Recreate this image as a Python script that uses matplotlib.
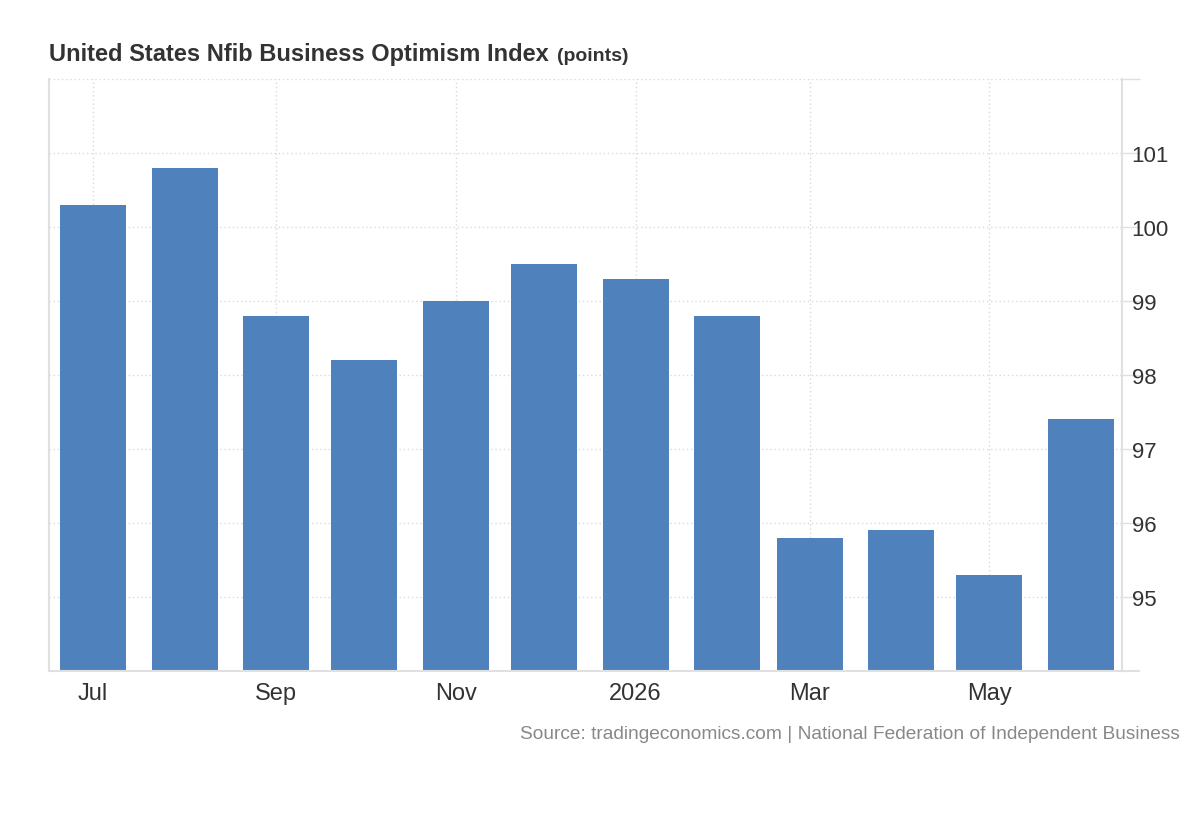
#!/usr/bin/env python3
"""United States NFIB business optimism index, monthly bars."""

from __future__ import annotations

from datetime import date

import matplotlib

matplotlib.use("Agg")
import matplotlib.pyplot as plt
from matplotlib.lines import Line2D

MONTHS = [
    date(2025, 7, 1), date(2025, 8, 1), date(2025, 9, 1), date(2025, 10, 1),
    date(2025, 11, 1), date(2025, 12, 1), date(2026, 1, 1), date(2026, 2, 1),
    date(2026, 3, 1), date(2026, 4, 1), date(2026, 5, 1), date(2026, 6, 1),
]
INDEX_POINTS = [100.3, 100.8, 98.8, 98.2, 99.0, 99.5, 99.3, 98.8, 95.8, 95.9, 95.3, 97.4]

TICK_DATES = [
    date(2025, 7, 1), date(2025, 9, 1), date(2025, 11, 1),
    date(2026, 1, 1), date(2026, 3, 1), date(2026, 5, 1),
]
TICK_LABELS = ["Jul", "Sep", "Nov", "2026", "Mar", "May"]
Y_TICKS = [95, 96, 97, 98, 99, 100, 101]

BAR_COLOR = "#4f81bd"
TEXT_COLOR = "#333333"
GRID_COLOR = "#d9d9d9"
AXIS_COLOR = "#e0e0e0"


def main() -> int:
    plt.rcParams["font.family"] = ["Liberation Sans", "DejaVu Sans"]
    fig = plt.figure(figsize=(12, 8.2), dpi=100)
    ax = fig.add_axes((0.0408, 0.1805, 0.8942, 0.7220))

    ax.bar(MONTHS, INDEX_POINTS, width=22.4, color=BAR_COLOR, zorder=2)

    ax.set_xlim(date(2025, 6, 16), date(2026, 6, 15))
    ax.set_ylim(94, 102)

    # grid: dotted, with the top border drawn as a grid line too
    for y in Y_TICKS + [102]:
        ax.axhline(y, color=GRID_COLOR, linestyle=(0, (1, 2)), linewidth=1, zorder=1)
    for d in TICK_DATES:
        ax.axvline(d, color=GRID_COLOR, linestyle=(0, (1, 2)), linewidth=1, zorder=1)

    ax.set_xticks(TICK_DATES, TICK_LABELS)
    ax.tick_params(axis="x", length=0, pad=8, labelsize=17, labelcolor=TEXT_COLOR)

    ax.yaxis.tick_right()
    ax.set_yticks(Y_TICKS + [102], [str(v) for v in Y_TICKS] + [""])
    ax.tick_params(axis="y", length=13, width=1, color=AXIS_COLOR, pad=-6,
                   labelsize=16, labelcolor=TEXT_COLOR)

    ax.spines["top"].set_visible(False)
    for side in ("left", "right", "bottom"):
        ax.spines[side].set_color(AXIS_COLOR)
        ax.spines[side].set_linewidth(1.5)
    # bottom axis line runs a little past the right spine
    ax.add_line(Line2D([1.0, 1.016], [0, 0], transform=ax.transAxes,
                       color=AXIS_COLOR, linewidth=1.5, clip_on=False))

    title = fig.text(0.0408, 0.926, "United States Nfib Business Optimism Index",
                     fontsize=17, fontweight="bold", color=TEXT_COLOR, va="baseline")
    fig.canvas.draw()
    bbox = title.get_window_extent()
    fig.text((bbox.x1 + 8) / fig.bbox.width, 0.926, "(points)", fontsize=14,
             fontweight="bold", color=TEXT_COLOR, va="baseline")
    fig.text(0.983, 0.099, "Source: tradingeconomics.com | National Federation of Independent Business",
             fontsize=13.8, color="#888888", ha="right", va="baseline")

    fig.savefig("out.png", dpi=100, facecolor="white")
    plt.close(fig)
    return 0


if __name__ == "__main__":
    raise SystemExit(main())
